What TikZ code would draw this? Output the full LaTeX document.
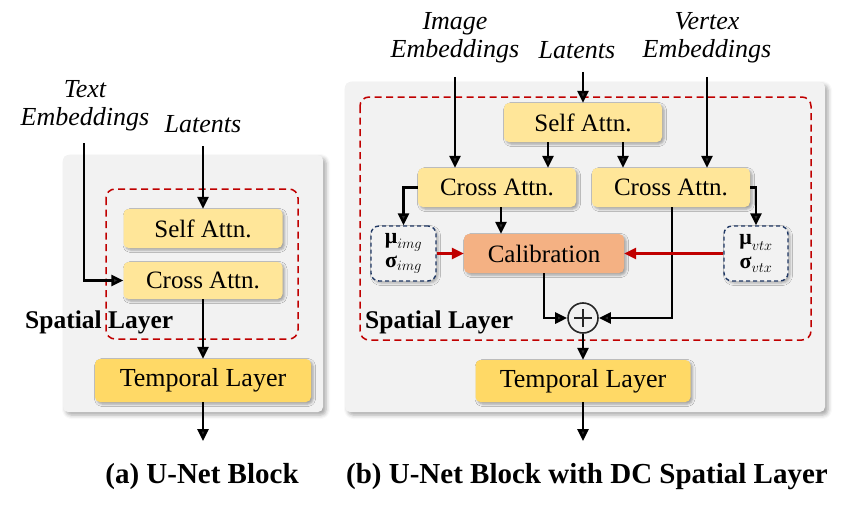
\documentclass[tikz,border=0pt]{standalone}
\usepackage{fontspec}
\setmainfont{Liberation Serif}
\usetikzlibrary{arrows.meta,shadows.blur,calc}
\definecolor{bggray}{HTML}{F2F2F2}
\definecolor{yl}{HTML}{FFE699}
\definecolor{yd}{HTML}{FFD966}
\definecolor{calo}{HTML}{F4B183}
\definecolor{dred}{HTML}{C00000}
\definecolor{navy}{HTML}{203864}
\tikzset{
  bgpanel/.style={fill=bggray, rounded corners=5pt, blur shadow={shadow xshift=3pt, shadow yshift=-3pt, shadow blur radius=4pt, shadow opacity=35}},
  reddash/.style={draw=dred, dashed, dash pattern=on 7pt off 4.5pt, line width=1.5pt, rounded corners=9pt},
  ybox/.style={fill=yl, rounded corners=5pt, inner sep=0pt, font=\fontsize{25}{27}\selectfont, blur shadow={shadow xshift=2pt, shadow yshift=-2pt, shadow blur radius=2.5pt, shadow opacity=35}},
  tbox/.style={ybox, fill=yd, font=\fontsize{26}{28}\selectfont},
  cbox/.style={ybox, fill=calo},
  mubox/.style={draw=navy, dashed, dash pattern=on 4pt off 3pt, line width=1.4pt, fill=bggray, rounded corners=8pt, inner sep=0pt, align=center, font=\fontsize{22}{24}\selectfont, blur shadow={shadow xshift=2pt, shadow yshift=-2pt, shadow blur radius=2.5pt, shadow opacity=30}},
  lbl/.style={font=\itshape\fontsize{26}{28}\selectfont, align=center, inner sep=0pt},
  splbl/.style={font=\bfseries\fontsize{25.5}{27}\selectfont, inner sep=0pt, anchor=west},
  captxt/.style={font=\bfseries\fontsize{29}{31}\selectfont, inner sep=0pt},
  arr/.style={line width=2.6pt, -{Triangle[length=12pt,width=11pt]}},
  rarr/.style={line width=2.6pt, draw=dred, -{Triangle[length=12pt,width=11pt]}, color=dred},
}
\begin{document}
\begin{tikzpicture}[x=1pt,y=-1pt]
\useasboundingbox (0,0) rectangle (865,511);

% ---------- (a) ----------
\path[bgpanel] (63,155) rectangle (323,412);
\draw[reddash] (106,189) rectangle (298,339);
\node[ybox, minimum width=159pt, minimum height=39pt] (selfA) at (203,228.5) {Self Attn.};
\node[ybox, minimum width=159pt, minimum height=37pt] (crossA) at (203,280.5) {Cross Attn.};
\node[tbox, minimum width=216pt, minimum height=43pt] (tempA) at (203,380.5) {Temporal Layer};
\node[splbl] (spA) at (25,322) {Spatial Layer};
\node[lbl] (textE) at (85,106) {Text\\Embeddings};
\node[lbl] (latA) at (203,124) {Latents};
\coordinate (latAs) at (203,146);
\coordinate (textEs) at (84,143);
\coordinate (outA) at (203,441);
\draw[arr] (latAs) -- (selfA.north);
\draw[arr] (textEs) |- (crossA.west);
\draw[arr] (crossA.south) -- (tempA.north);
\draw[arr] (tempA.south) -- (outA);
\node[captxt] (capA) at (202,477) {(a) U-Net Block};

% ---------- (b) ----------
\path[bgpanel] (345,82) rectangle (825,412);
\draw[reddash] (360,97) rectangle (811,340);
\node[ybox, minimum width=158pt, minimum height=39pt] (selfB) at (583,122.5) {Self Attn.};
\node[ybox, minimum width=158pt, minimum height=39pt] (crossL) at (497,187.5) {Cross Attn.};
\node[ybox, minimum width=158pt, minimum height=39pt] (crossR) at (671,187.5) {Cross Attn.};
\node[mubox, minimum width=65pt, minimum height=55pt] (muI) at (403.5,253.5) {$\textbf{μ}_{img}$\\[0pt]$\textbf{σ}_{img}$};
\node[cbox, minimum width=160pt, minimum height=39pt] (calib) at (544,253.5) {Calibration};
\node[mubox, minimum width=64pt, minimum height=55pt] (muV) at (756,253.5) {$\textbf{μ}_{vtx}$\\[0pt]$\textbf{σ}_{vtx}$};
\node[circle, draw=black!85, line width=1.6pt, fill=bggray, minimum size=30pt, inner sep=0pt,
  path picture={\draw[line width=1.6pt,black!85] ($(path picture bounding box.center)+(-9pt,0)$) -- ($(path picture bounding box.center)+(9pt,0)$) ($(path picture bounding box.center)+(0,-9pt)$) -- ($(path picture bounding box.center)+(0,9pt)$);}] (plus) at (583,318) {};
\node[tbox, minimum width=215pt, minimum height=42pt] (tempB) at (583,381) {Temporal Layer};
\node[splbl] (spB) at (365,322) {Spatial Layer};
\node[lbl] (imgE) at (455,38) {Image\\Embeddings};
\node[lbl] (latB) at (577,50) {Latents};
\node[lbl] (vtxE) at (707,38) {Vertex\\Embeddings};
\coordinate (imgEs) at (455,77);
\coordinate (latBs) at (583,72);
\coordinate (vtxEs) at (707,77);
\coordinate (outB) at (583,441);
\draw[arr] (imgEs) -- (imgEs |- crossL.north);
\draw[arr] (latBs) -- (selfB.north);
\draw[arr] ([xshift=-35pt]selfB.south) -- ([xshift=-35pt]selfB.south |- crossL.north);
\draw[arr] ([xshift=40pt]selfB.south) -- ([xshift=40pt]selfB.south |- crossR.north);
\draw[arr] (vtxEs) -- (vtxEs |- crossR.north);
\draw[arr] (crossL.west) -| (muI.north);
\draw[arr] (crossR.east) -| (muV.north);
\draw[arr] ([xshift=4pt]crossL.south) -- ([xshift=4pt]crossL.south |- calib.north);
\draw[arr] ([xshift=1pt]crossR.south) |- (plus.east);
\draw[arr] (calib.south) |- (plus.west);
\draw[rarr] (muI.east) -- (calib.west);
\draw[rarr] (muV.west) -- (calib.east);
\draw[arr] (plus.south) -- (tempB.north);
\draw[arr] (tempB.south) -- (outB);
\node[captxt] (capB) at (587,477) {(b) U-Net Block with DC Spatial Layer};
\end{tikzpicture}
\end{document}
